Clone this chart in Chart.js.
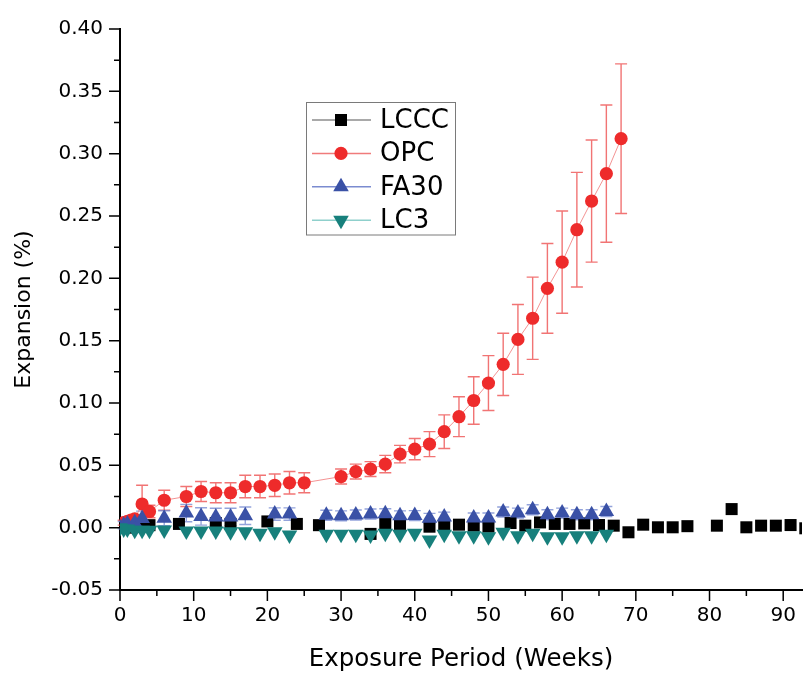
<!DOCTYPE html>
<html>
<head>
<meta charset="utf-8">
<script src="https://cdn.jsdelivr.net/npm/chart.js@4.4.1/dist/chart.umd.min.js"></script>
<style>
html,body{margin:0;padding:0;background:#fff;overflow:hidden}
#wrap{position:relative;width:811px;height:673px}
canvas{display:block}
</style>
</head>
<body>
<div id="wrap"><canvas id="c" width="811" height="673"></canvas></div>
<script>
// ---------- data ----------
const seriesNames = ['LCCC', 'OPC', 'FA30', 'LC3'];

const lcccWeeks  = [0, 1, 2, 3, 4, 8, 13, 15, 20, 24, 27, 34, 36, 38, 42, 44, 46, 48, 50, 53, 55, 57, 59, 61, 63, 65, 67, 69, 71, 73, 75, 77, 81, 83, 85, 87, 89, 91, 93];
const lcccValues = [0, 0.000, 0.001, 0.001, 0.002, 0.003, 0.0037, 0.003, 0.005, 0.003, 0.002, -0.005, 0.0034, 0.003, 0.0008, 0.0016, 0.0024, 0.0016, 0.0008, 0.0037, 0.0016, 0.0042, 0.003, 0.003, 0.0034, 0.0021, 0.0016, -0.0037, 0.0024, 0.0003, 0.0003, 0.0012, 0.0016, 0.0149, 0.0003, 0.0016, 0.0016, 0.0021, -0.0005];

const opcWeeks  = [0, 0.5, 1, 1.5, 2, 3, 4, 6, 9, 11, 13, 15, 17, 19, 21, 23, 25, 30, 32, 34, 36, 38, 40, 42, 44, 46, 48, 50, 52, 54, 56, 58, 60, 62, 64, 66, 68];
const opcValues = [0, 0.004, 0.005, 0.006, 0.007, 0.019, 0.013, 0.022, 0.025, 0.029, 0.028, 0.028, 0.033, 0.033, 0.034, 0.036, 0.036, 0.041, 0.045, 0.047, 0.051, 0.059, 0.063, 0.067, 0.077, 0.089, 0.102, 0.116, 0.131, 0.151, 0.168, 0.192, 0.213, 0.239, 0.262, 0.284, 0.312];
const opcErrors = [0, 0.002, 0.002, 0.002, 0.002, 0.015, 0.005, 0.008, 0.008, 0.008, 0.008, 0.008, 0.009, 0.009, 0.009, 0.009, 0.008, 0.006, 0.006, 0.006, 0.007, 0.007, 0.0085, 0.010, 0.0135, 0.016, 0.019, 0.022, 0.025, 0.028, 0.033, 0.036, 0.041, 0.046, 0.049, 0.055, 0.060];

const fa30Weeks  = [0, 0.5, 1, 2, 3, 6, 9, 11, 13, 15, 17, 21, 23, 28, 30, 32, 34, 36, 38, 40, 42, 44, 48, 50, 52, 54, 56, 58, 60, 62, 64, 66];
const fa30Values = [0, 0.002, 0.003, 0.004, 0.0073, 0.0076, 0.0117, 0.009, 0.0086, 0.0086, 0.0096, 0.0109, 0.0109, 0.010, 0.0095, 0.0102, 0.011, 0.0112, 0.0095, 0.0097, 0.0075, 0.0085, 0.0078, 0.0078, 0.0126, 0.0117, 0.0144, 0.0104, 0.0117, 0.0104, 0.0104, 0.013];
const fa30Errors = [0, 0.003, 0.003, 0.004, 0.006, 0.006, 0.007, 0.007, 0.007, 0.007, 0.007, 0.005, 0.005, 0.004, 0.004, 0.004, 0.004, 0.004, 0.004, 0.004, 0.004, 0.004, 0.004, 0.004, 0.004, 0.004, 0.004, 0.004, 0.004, 0.004, 0.004, 0.004];

const lc3Weeks  = [0, 0.5, 1, 2, 3, 4, 6, 9, 11, 13, 15, 17, 19, 21, 23, 28, 30, 32, 34, 36, 38, 40, 42, 44, 46, 48, 50, 52, 54, 56, 58, 60, 62, 64, 66];
const lc3Values = [0, -0.001, -0.001, -0.002, -0.002, -0.002, -0.0018, -0.0026, -0.0026, -0.0026, -0.0032, -0.0032, -0.0045, -0.0032, -0.0058, -0.0053, -0.0053, -0.0053, -0.0058, -0.0045, -0.0053, -0.0045, -0.0098, -0.0053, -0.0064, -0.0064, -0.0072, -0.0037, -0.0064, -0.0045, -0.0072, -0.0072, -0.0064, -0.0064, -0.0053];

const xTickLabels = [0, 10, 20, 30, 40, 50, 60, 70, 80, 90];
const xMinorTicks = [5, 15, 25, 35, 45, 55, 65, 75, 85];
const yTickLabels = [-0.05, 0.00, 0.05, 0.10, 0.15, 0.20, 0.25, 0.30, 0.35, 0.40];
const yMinorTicks = [-0.025, 0.025, 0.075, 0.125, 0.175, 0.225, 0.275, 0.325, 0.375];

const xTitle = 'Exposure Period (Weeks)';
const yTitle = 'Expansion (%)';

// ---------- chart ----------
const toPoints = (xs, ys) => xs.map((x, i) => ({x: x, y: ys[i]}));
const FONT = '"DejaVu Sans", "Liberation Sans", Arial, sans-serif';

const datasets = [
  {label: seriesNames[0], data: toPoints(lcccWeeks, lcccValues), showLine: false,
   borderColor: '#8c8c8c', borderWidth: 1,
   pointStyle: 'rect', pointRadius: 8.5, pointBackgroundColor: '#000', pointBorderColor: '#000', pointBorderWidth: 0,
   legendLine: '#8c8c8c', order: 4},
  {label: seriesNames[1], data: toPoints(opcWeeks, opcValues), showLine: true, errorValues: opcErrors, errorColor: 'rgba(236,70,70,0.75)',
   borderColor: 'rgba(240,120,120,0.8)', borderWidth: 1,
   pointStyle: 'circle', pointRadius: 6.6, pointBackgroundColor: '#ee2b2b', pointBorderColor: '#ee2b2b', pointBorderWidth: 0,
   legendLine: '#f07b7b', order: 3},
  {label: seriesNames[2], data: toPoints(fa30Weeks, fa30Values), showLine: false, errorValues: fa30Errors, errorColor: 'rgba(120,140,210,0.8)',
   borderColor: 'rgba(120,138,208,0.7)', borderWidth: 1,
   pointStyle: 'triangle', pointRadius: 9, pointBackgroundColor: '#3a51a6', pointBorderColor: '#3a51a6', pointBorderWidth: 0,
   legendLine: '#7b8bd0', order: 2},
  {label: seriesNames[3], data: toPoints(lc3Weeks, lc3Values), showLine: false,
   borderColor: 'rgba(130,200,196,0.7)', borderWidth: 1,
   pointStyle: 'triangle', pointRotation: 180, pointRadius: 9, pointBackgroundColor: '#17807c', pointBorderColor: '#17807c', pointBorderWidth: 0,
   legendLine: '#8fd0cc', order: 1}
];

const errorBarsPlugin = {
  id: 'errorBars',
  beforeDatasetsDraw(chart) {
    const {ctx, scales: {x, y}} = chart;
    ctx.save();
    chart.data.datasets.forEach(ds => {
      if (!ds.errorValues) return;
      ctx.strokeStyle = ds.errorColor;
      ctx.lineWidth = 1.4;
      ds.data.forEach((p, j) => {
        const e = ds.errorValues[j];
        if (!e) return;
        const px = x.getPixelForValue(p.x);
        const t = y.getPixelForValue(p.y + e);
        const b = y.getPixelForValue(p.y - e);
        ctx.beginPath();
        ctx.moveTo(px, t); ctx.lineTo(px, b);
        ctx.moveTo(px - 6, t); ctx.lineTo(px + 6, t);
        ctx.moveTo(px - 6, b); ctx.lineTo(px + 6, b);
        ctx.stroke();
      });
    });
    ctx.restore();
  }
};

const axisTicksPlugin = {
  id: 'axisTicks',
  afterDraw(chart) {
    const {ctx, chartArea: a, scales: {x, y}} = chart;
    ctx.save();
    ctx.strokeStyle = '#000';
    ctx.lineWidth = 1.5;
    ctx.beginPath();
    yTickLabels.forEach(v => { const py = y.getPixelForValue(v); ctx.moveTo(a.left, py); ctx.lineTo(a.left - 11, py); });
    yMinorTicks.forEach(v => { const py = y.getPixelForValue(v); ctx.moveTo(a.left, py); ctx.lineTo(a.left - 6, py); });
    xTickLabels.forEach(v => { const px = x.getPixelForValue(v); ctx.moveTo(px, a.bottom); ctx.lineTo(px, a.bottom + 11); });
    xMinorTicks.forEach(v => { const px = x.getPixelForValue(v); ctx.moveTo(px, a.bottom); ctx.lineTo(px, a.bottom + 6); });
    ctx.stroke();
    ctx.restore();
  }
};

function drawMarker(ctx, style, x, y, r, color, rot) {
  ctx.fillStyle = color;
  ctx.beginPath();
  if (style === 'rect') {
    const s = Math.SQRT1_2 * r;
    ctx.rect(x - s, y - s, 2 * s, 2 * s);
  } else if (style === 'circle') {
    ctx.arc(x, y, r, 0, Math.PI * 2);
  } else if (style === 'triangle') {
    let ang = (rot || 0) * Math.PI / 180;
    for (let k = 0; k < 3; k++) {
      const px = x + Math.sin(ang) * r, py = y - Math.cos(ang) * r;
      if (k === 0) ctx.moveTo(px, py); else ctx.lineTo(px, py);
      ang += 2 * Math.PI / 3;
    }
    ctx.closePath();
  }
  ctx.fill();
}

const boxLegendPlugin = {
  id: 'boxLegend',
  afterDraw(chart) {
    const ctx = chart.ctx;
    ctx.save();
    ctx.fillStyle = '#fff';
    ctx.fillRect(306.5, 102.5, 149, 132.5);
    ctx.strokeStyle = '#7a7a7a';
    ctx.lineWidth = 1;
    ctx.strokeRect(306.5, 102.5, 149, 132.5);
    chart.data.datasets.forEach((ds, i) => {
      const ry = 120 + i * 33.4;
      ctx.strokeStyle = ds.legendLine;
      ctx.lineWidth = 1.5;
      ctx.beginPath(); ctx.moveTo(312, ry); ctx.lineTo(371, ry); ctx.stroke();
      drawMarker(ctx, ds.pointStyle, 341, ry, ds.pointRadius, ds.pointBackgroundColor, ds.pointRotation);
      ctx.fillStyle = '#000';
      ctx.font = '26px ' + FONT;
      ctx.textBaseline = 'middle';
      ctx.textAlign = 'left';
      ctx.fillText(ds.label, 380, ry + 1);
    });
    ctx.restore();
  }
};

new Chart(document.getElementById('c'), {
  type: 'scatter',
  data: {datasets: datasets},
  options: {
    responsive: false,
    animation: false,
    devicePixelRatio: 1,
    layout: {padding: {top: 24, right: 0, bottom: 0, left: 0}},
    plugins: {legend: {display: false}, tooltip: {enabled: false}},
    scales: {
      x: {
        type: 'linear', min: 0, max: 92.55,
        afterBuildTicks: s => { s.ticks = xTickLabels.map(v => ({value: v})); },
        afterFit: s => { s.height = 83; },
        grid: {display: false, drawTicks: false},
        border: {display: true, color: '#000', width: 2},
        ticks: {color: '#000', padding: 14, maxRotation: 0, autoSkip: false,
                font: {family: FONT, size: 20}, callback: v => String(v)},
        title: {display: true, text: xTitle, color: '#000', padding: {top: 0, bottom: 0},
                font: {family: FONT, size: 24.5, lineHeight: 1.06}}
      },
      y: {
        type: 'linear', min: -0.05, max: 0.40,
        afterBuildTicks: s => { s.ticks = yTickLabels.map(v => ({value: v})); },
        afterFit: s => { s.width = 120; },
        grid: {display: false, drawTicks: false},
        border: {display: true, color: '#000', width: 2},
        ticks: {color: '#000', padding: 17, autoSkip: false,
                font: {family: FONT, size: 20}, callback: v => Number(v).toFixed(2)},
        title: {display: true, text: yTitle, color: '#000', padding: {top: 11, bottom: 0},
                font: {family: FONT, size: 22, lineHeight: 1.2}}
      }
    }
  },
  plugins: [errorBarsPlugin, axisTicksPlugin, boxLegendPlugin]
});
</script>
</body>
</html>
